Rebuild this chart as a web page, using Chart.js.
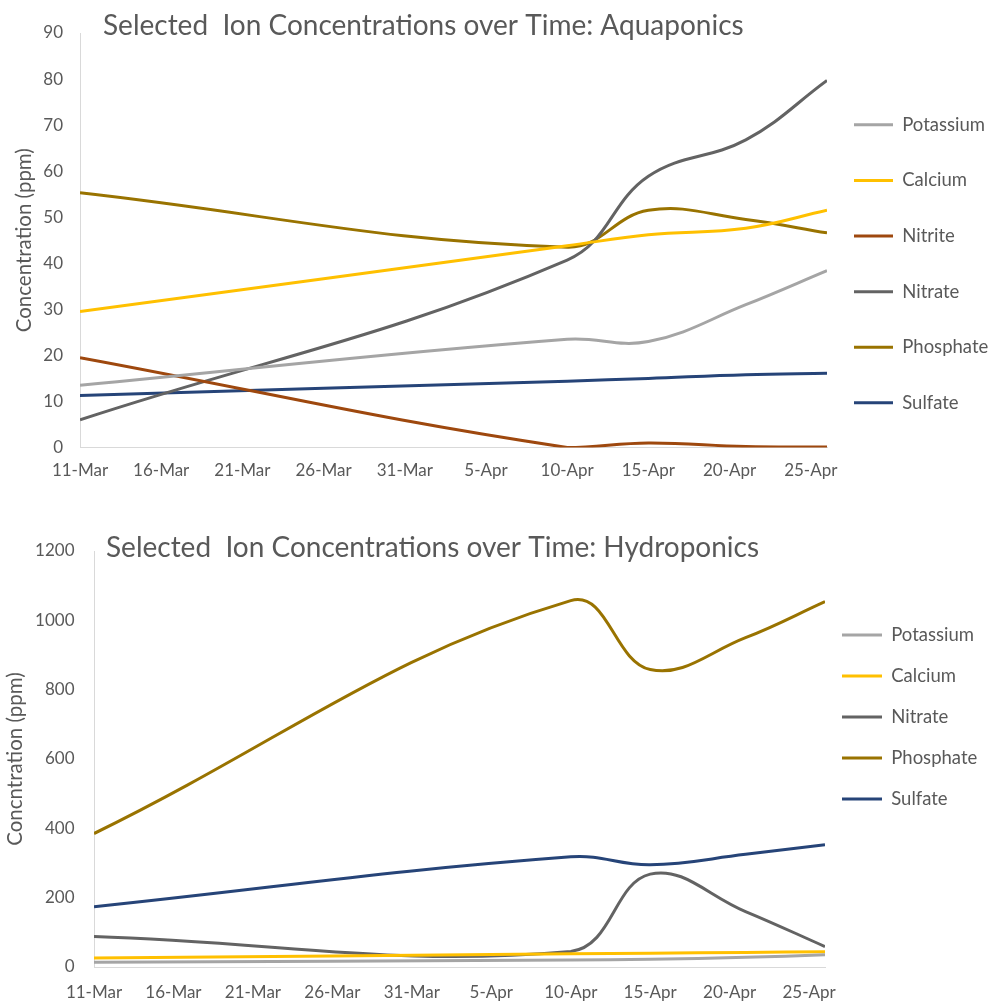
<!DOCTYPE html>
<html>
<head>
<meta charset="utf-8">
<script src="https://cdn.jsdelivr.net/npm/chart.js@4.4.1/dist/chart.umd.min.js"></script>
<style>
  html, body { margin: 0; padding: 0; background: #ffffff; }
  .wrap { position: absolute; left: 0; width: 988px; height: 490px; }
  #wrapA { top: 0px; }
  #wrapB { top: 512px; }
  canvas { display: block; }
</style>
</head>
<body>
<div id="wrapA" class="wrap"><canvas id="chartA" width="988" height="490" style="width:988px;height:490px"></canvas></div>
<div id="wrapB" class="wrap"><canvas id="chartB" width="988" height="490" style="width:988px;height:490px"></canvas></div>
<script>
// ---------- data ----------
const tickDates   = ['11-Mar', '16-Mar', '21-Mar', '26-Mar', '31-Mar', '5-Apr', '10-Apr', '15-Apr', '20-Apr', '25-Apr'];
const sampleDates = ['11-Mar', '10-Apr', '15-Apr', '21-Apr', '26-Apr'];

// Aquaponics (ppm)
const aquaPotassium = [13.5, 23.5, 23.0, 31.0, 38.4];
const aquaCalcium   = [29.5, 43.8, 46.2, 47.6, 51.5];
const aquaNitrite   = [19.5, 0.0, 1.0, 0.2, 0.1];
const aquaNitrate   = [6.0, 40.7, 58.9, 66.8, 79.7];
const aquaPhosphate = [55.3, 43.5, 51.5, 49.5, 46.6];
const aquaSulfate   = [11.3, 14.4, 15.0, 15.8, 16.1];

// Hydroponics (ppm)
const hydroPotassium = [13.5, 20, 22, 28, 35];
const hydroCalcium   = [26, 38, 40, 42, 44];
const hydroNitrate   = [88, 45, 268, 160, 59];
const hydroPhosphate = [385, 1057, 858, 950, 1054];
const hydroSulfate   = [174, 318, 295, 325, 353];

// ---------- helpers ----------
const monthOffset = { Mar: 0, Apr: 31 };
function dayOf(label) {
  const [d, m] = label.split('-');
  return monthOffset[m] + parseInt(d, 10) - 11;
}
const sampleDays = sampleDates.map(dayOf);
function pts(values) { return values.map((v, i) => ({ x: sampleDays[i], y: v })); }

const COLORS = {
  Potassium: '#A5A5A5',
  Calcium:   '#FFC000',
  Nitrite:   '#9E480E',
  Nitrate:   '#636363',
  Phosphate: '#997300',
  Sulfate:   '#264478'
};
const TEXT = '#595959';
const AXIS = '#D9D9D9';
const FONT = 'Lato';
const LEGEND_SIZE = 18.5;

function ds(name, values) {
  return {
    label: name,
    data: pts(values),
    borderColor: COLORS[name],
    backgroundColor: COLORS[name],
    borderWidth: 3,
    pointRadius: 0,
    pointHoverRadius: 0,
    tension: 0.4,
    fill: false
  };
}

const cornerTitle = {
  id: 'cornerTitle',
  afterDraw(chart, args, opts) {
    const ctx = chart.ctx;
    ctx.save();
    ctx.font = opts.size + 'px ' + FONT;
    ctx.fillStyle = TEXT;
    ctx.textAlign = 'left';
    ctx.textBaseline = 'alphabetic';
    ctx.fillText(opts.text, opts.x, opts.y);
    ctx.restore();
  }
};

function arrayLabels(chart) {
  const items = Chart.defaults.plugins.legend.labels.generateLabels(chart);
  items.forEach(it => { it.text = [it.text]; });
  return items;
}

// width the legend box would need, so the plot's right edge can be fixed
function legendNeed(names, pad, line) {
  const c = document.createElement('canvas').getContext('2d');
  c.font = LEGEND_SIZE + 'px ' + FONT;
  const w = Math.max(...names.map(n => c.measureText(n).width));
  return 10 + pad + line + LEGEND_SIZE / 2 + w;
}

function makeChart(canvasId, cfg) {
  const xTickValues = tickDates.map(dayOf);
  const names = cfg.datasets.map(d => d.label);
  const need = legendNeed(names, cfg.legendPad, cfg.legendLine);
  const padRight = Math.max(0, cfg.legendWidth - need);
  return new Chart(document.getElementById(canvasId), {
    type: 'line',
    data: { datasets: cfg.datasets },
    plugins: [cornerTitle],
    options: {
      responsive: false,
      animation: false,
      events: [],
      layout: { padding: { top: cfg.padTop, right: padRight, bottom: 0, left: 0 } },
      scales: {
        x: {
          type: 'linear',
          min: 0,
          max: 46,
          afterBuildTicks: s => { s.ticks = xTickValues.map(v => ({ value: v })); },
          afterFit: s => { s.height = cfg.xHeight; },
          ticks: {
            autoSkip: false, maxRotation: 0, padding: cfg.xPad, color: TEXT,
            font: { family: FONT, size: 17 },
            callback: v => { const i = xTickValues.indexOf(v); return i >= 0 ? tickDates[i] : ''; }
          },
          grid: { display: false, drawTicks: false },
          border: { display: true, color: AXIS, width: 1 }
        },
        y: {
          min: 0,
          max: cfg.yMax,
          afterFit: s => { s.width = cfg.yWidth; },
          ticks: {
            stepSize: cfg.yStep, padding: cfg.yPad, color: TEXT,
            font: { family: FONT, size: 17 },
            callback: v => String(v)
          },
          grid: { display: false, drawTicks: false },
          border: { display: true, color: AXIS, width: 1 },
          title: {
            display: true, text: cfg.yTitle, color: TEXT,
            font: { family: FONT, size: 20.5 },
            padding: { top: cfg.yTitlePad, bottom: 0 }
          }
        }
      },
      plugins: {
        tooltip: { enabled: false },
        cornerTitle: { text: cfg.title, x: cfg.titleX, y: cfg.titleY, size: 28 },
        legend: {
          position: 'right',
          align: 'start',
          fullSize: true,
          maxWidth: cfg.legendWidth,
          title: { display: true, text: ' ', padding: 0, font: { size: 10, lineHeight: cfg.legendOffset + 'px' } },
          labels: {
            usePointStyle: true,
            pointStyle: 'line',
            pointStyleWidth: cfg.legendLine,
            padding: cfg.legendPad,
            color: TEXT,
            font: { family: FONT, size: LEGEND_SIZE, lineHeight: cfg.legendRow + 'px' },
            generateLabels: arrayLabels
          }
        }
      }
    }
  });
}

function build() {
  makeChart('chartA', {
    datasets: [
      ds('Potassium', aquaPotassium),
      ds('Calcium', aquaCalcium),
      ds('Nitrite', aquaNitrite),
      ds('Nitrate', aquaNitrate),
      ds('Phosphate', aquaPhosphate),
      ds('Sulfate', aquaSulfate)
    ],
    title: 'Selected  Ion Concentrations over Time: Aquaponics',
    titleX: 103, titleY: 35,
    padTop: 33, xHeight: 42.5, xPad: 13,
    yMax: 90, yStep: 10, yWidth: 80, yPad: 17, yTitle: 'Concentration (ppm)', yTitlePad: 11.7,
    legendWidth: 161, legendPad: 27, legendRow: 28.6, legendOffset: 55.6, legendLine: 39
  });
  makeChart('chartB', {
    datasets: [
      ds('Potassium', hydroPotassium),
      ds('Calcium', hydroCalcium),
      ds('Nitrate', hydroNitrate),
      ds('Phosphate', hydroPhosphate),
      ds('Sulfate', hydroSulfate)
    ],
    title: 'Selected  Ion Concentrations over Time: Hydroponics',
    titleX: 106, titleY: 45,
    padTop: 39, xHeight: 35, xPad: 15,
    yMax: 1200, yStep: 200, yWidth: 94, yPad: 19.5, yTitle: 'Concntration (ppm)', yTitlePad: 2.7,
    legendWidth: 163, legendPad: 17, legendRow: 24, legendOffset: 57.8, legendLine: 40
  });
}

if (document.fonts && document.fonts.load) {
  Promise.all([document.fonts.load('17px Lato'), document.fonts.load('28px Lato')])
    .then(build, build);
} else {
  build();
}
</script>
</body>
</html>
